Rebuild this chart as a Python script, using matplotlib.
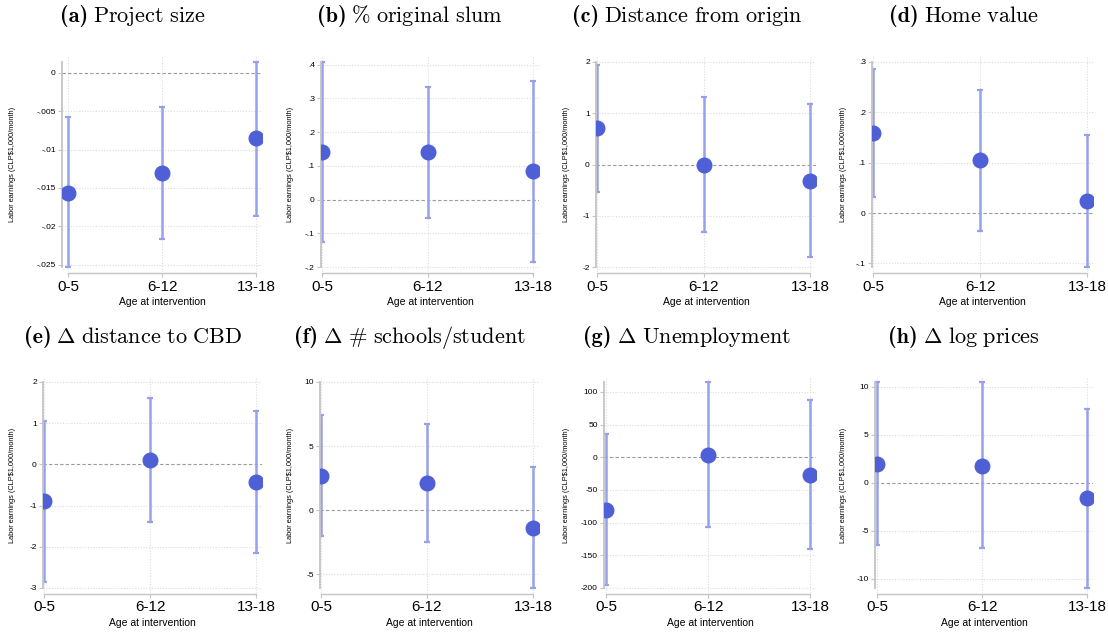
import numpy as np
import matplotlib
matplotlib.use("Agg")
import matplotlib.pyplot as plt

plt.rcParams["mathtext.fontset"] = "cm"
plt.rcParams["font.family"] = ["Liberation Sans", "DejaVu Sans"]

W, H = 1108, 635

# categories shared by every panel
age_groups = ["0-5", "6-12", "13-18"]

# panel titles: bold tag + Computer Modern text (mathtext)
tags = ["(a)", "(b)", "(c)", "(d)", "(e)", "(f)", "(g)", "(h)"]
titles = [
    r"$\mathrm{Project\ size}$",
    r"$\mathrm{\%\ original\ slum}$",
    r"$\mathrm{Distance\ from\ origin}$",
    r"$\mathrm{Home\ value}$",
    r"$\mathrm{\Delta\ distance\ to\ CBD}$",
    r"$\mathrm{\Delta\ \#\ schools/student}$",
    r"$\mathrm{\Delta\ Unemployment}$",
    r"$\mathrm{\Delta\ log\ prices}$",
]

# point estimates
coef_a = [-0.0156, -0.0130, -0.0085]
coef_b = [0.141, 0.140, 0.085]
coef_c = [0.71, -0.01, -0.32]
coef_d = [0.159, 0.106, 0.025]
coef_e = [-0.90, 0.10, -0.42]
coef_f = [2.66, 2.14, -1.36]
coef_g = [-80.0, 4.0, -27.0]
coef_h = [2.0, 1.8, -1.6]

# confidence intervals (upper, lower)
hi_a = [-0.0058, -0.0045, 0.0014]
lo_a = [-0.0253, -0.0216, -0.0186]
hi_b = [0.408, 0.333, 0.353]
lo_b = [-0.126, -0.054, -0.184]
hi_c = [1.95, 1.32, 1.18]
lo_c = [-0.53, -1.32, -1.81]
hi_d = [0.286, 0.244, 0.155]
lo_d = [0.031, -0.035, -0.107]
hi_e = [1.06, 1.60, 1.30]
lo_e = [-2.86, -1.40, -2.16]
hi_f = [7.4, 6.76, 3.34]
lo_f = [-2.0, -2.45, -6.07]
hi_g = [36.0, 115.0, 87.0]
lo_g = [-195.0, -106.0, -141.0]
hi_h = [10.5, 10.45, 7.65]
lo_h = [-6.45, -6.8, -10.95]

# y ticks and their Stata-style labels
yt_a = [0, -0.005, -0.01, -0.015, -0.02, -0.025]
yl_a = ["0", "-.005", "-.01", "-.015", "-.02", "-.025"]
yt_b = [0.4, 0.3, 0.2, 0.1, 0, -0.1, -0.2]
yl_b = [".4", ".3", ".2", ".1", "0", "-.1", "-.2"]
yt_c = [2, 1, 0, -1, -2]
yl_c = ["2", "1", "0", "-1", "-2"]
yt_d = [0.3, 0.2, 0.1, 0, -0.1]
yl_d = [".3", ".2", ".1", "0", "-.1"]
yt_e = [2, 1, 0, -1, -2, -3]
yl_e = ["2", "1", "0", "-1", "-2", "-3"]
yt_f = [10, 5, 0, -5]
yl_f = ["10", "5", "0", "-5"]
yt_g = [100, 50, 0, -50, -100, -150, -200]
yl_g = ["100", "50", "0", "-50", "-100", "-150", "-200"]
yt_h = [10, 5, 0, -5, -10]
yl_h = ["10", "5", "0", "-5", "-10"]

coefs = [coef_a, coef_b, coef_c, coef_d, coef_e, coef_f, coef_g, coef_h]
his = [hi_a, hi_b, hi_c, hi_d, hi_e, hi_f, hi_g, hi_h]
los = [lo_a, lo_b, lo_c, lo_d, lo_e, lo_f, lo_g, lo_h]
yticks = [yt_a, yt_b, yt_c, yt_d, yt_e, yt_f, yt_g, yt_h]
ylabels = [yl_a, yl_b, yl_c, yl_d, yl_e, yl_f, yl_g, yl_h]

# layout (pixels): left spine x, pad to first category, panel column offset
left_px = [62, 321, 596, 872, 43, 320, 604, 875]
pad_px = [6, 1, 1, 1, 1, 1, 2, 2]
col_off = [0, 277, 554, 831]
right_rel = 262          # right edge of plot region relative to column
last_rel = 256           # last category relative to column
row_top = [57, 377]
row_bot = [272, 593]
title_y = [22, 343]      # baseline
ticklab_y = [287, 607]
xlab_y = [302, 623]

MARKER = "#4f5fd6"
BAR = "#97a1ea"
GRID = "#dcdcdc"
SPINE = "#c4c4c4"
TITLE_SIZE = 16

fig = plt.figure(figsize=(W / 100, H / 100), dpi=100)
renderer = fig.canvas.get_renderer()


def fx(px):
    return px / W


def fy(py):
    return 1 - py / H


for i in range(8):
    row, col = divmod(i, 4)
    off = col_off[col]
    L = left_px[i]
    R = off + right_rel
    top, bot = row_top[row], row_bot[row]
    ax = fig.add_axes([fx(L), fy(bot), fx(R - L), (bot - top) / H])

    x = np.arange(1, 4)
    c1 = L + pad_px[i]
    c3 = off + last_rel
    u = (c3 - c1) / 2
    ax.set_xlim(1 - pad_px[i] / u, 3 + (R - c3) / u)

    vmax = max(max(his[i]), max(yticks[i]))
    vmin = min(min(los[i]), min(yticks[i]))
    m = 5 / (bot - top - 10) * (vmax - vmin)
    ax.set_ylim(vmin - m, vmax + m)

    # grid
    for t in yticks[i]:
        if t != 0:
            ax.axhline(t, color=GRID, lw=0.8, ls=(0, (1, 1.5)), zorder=0)
    for xv in x:
        ax.axvline(xv, color=GRID, lw=0.8, ls=(0, (1, 1.5)), zorder=0)
    ax.axhline(0, color="#9a9a9a", lw=0.8, ls=(0, (3, 2)), zorder=1)

    coef = np.array(coefs[i])
    err = [coef - np.array(los[i]), np.array(his[i]) - coef]
    ax.errorbar(x, coef, yerr=err, fmt="none", ecolor=BAR, elinewidth=1.8,
                capsize=2.3, capthick=1.6, zorder=2)
    ax.plot(x, coef, "o", color=MARKER, ms=10.5, mec=MARKER, zorder=3)

    for s in ["top", "right"]:
        ax.spines[s].set_visible(False)
    ax.spines["left"].set_color(SPINE)
    ax.spines["left"].set_linewidth(1.3)
    ax.spines["left"].set_bounds(vmin, vmax)
    ax.spines["bottom"].set_color(SPINE)
    ax.spines["bottom"].set_linewidth(1.0)
    ax.spines["bottom"].set_position(("outward", 1))
    ax.spines["bottom"].set_bounds(1, 3)

    ax.set_yticks(yticks[i])
    ax.set_yticklabels(ylabels[i], fontsize=6)
    ax.tick_params(axis="y", length=3, width=0.8, color=SPINE, pad=1.5)
    ax.set_xticks(x)
    ax.set_xticklabels([])
    ax.tick_params(axis="x", length=3, width=0.8, color=SPINE)
    for xv, lab in zip(x, age_groups):
        px = c1 + (xv - 1) * u
        fig.text(fx(px), fy(ticklab_y[row]), lab, fontsize=11,
                 ha="center", va="center")

    fig.text(fx((L + R) / 2), fy(xlab_y[row]), "Age at intervention",
             fontsize=7.5, ha="center", va="center")
    fig.text(fx(off + 13), fy((top + bot) / 2),
             "Labor earnings (CLP$1,000/month)", fontsize=5.3,
             rotation=90, ha="center", va="center")

    # title: bold tag then regular text, centred as a whole
    t1 = fig.text(0, fy(title_y[row]), tags[i], fontsize=TITLE_SIZE,
                  family="cmb10", ha="left", va="baseline")
    t2 = fig.text(0, fy(title_y[row]), titles[i], fontsize=TITLE_SIZE,
                  ha="left", va="baseline")
    w1 = t1.get_window_extent(renderer).width
    w2 = t2.get_window_extent(renderer).width
    gap = 5
    x0 = off + 133 - (w1 + gap + w2) / 2
    t1.set_x(fx(x0))
    t2.set_x(fx(x0 + w1 + gap))

fig.savefig("out.png", dpi=100)
